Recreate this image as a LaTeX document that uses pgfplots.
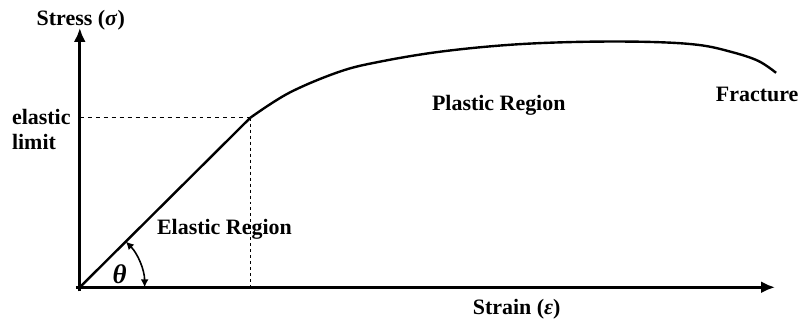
\documentclass[border=0pt]{standalone}
\usepackage{fontspec}
\setmainfont{Liberation Serif}
\usepackage{pgfplots}
\pgfplotsset{compat=1.18}
\usetikzlibrary{arrows.meta}

\begin{document}
\begin{tikzpicture}
	\begin{axis}[
		scale only axis,
		width=347pt, height=129.5pt,
		xmin=-4, xmax=690, ymin=-4, ymax=255,
		hide axis,
		clip=false,
		every node/.append style={inner sep=0pt, outer sep=0pt},
		font=\fontsize{11}{12.5}\selectfont\bfseries,
	]
		% invisible frame so the page has the reference's proportions
		\path (axis cs:-80,-34) rectangle (axis cs:725,288);

		% axes with arrows
		\draw[line width=1.4pt, -{Latex[length=7pt,width=6pt]}] (axis cs:-4,0) -- (axis cs:697,0);
		\draw[line width=1.4pt, -{Latex[length=7pt,width=6pt]}] (axis cs:0,-4) -- (axis cs:0,260);

		% elastic part
		\addplot[black, line width=1.2pt] coordinates {(0,0) (171,170)};
		% plastic part up to fracture
		\addplot[black, line width=1.2pt, smooth, tension=0.6] coordinates {
			(171,170) (210,195) (260,216) (300,226) (360,236) (430,243)
			(500,246) (570,246) (620,243) (653,236) (680,227) (698,215)};

		% elastic limit guides
		\addplot[black, line width=0.6pt, dash pattern=on 2pt off 2pt] coordinates {(0,170) (171,170)};
		\addplot[black, line width=0.6pt, dash pattern=on 1.5pt off 1.5pt] coordinates {(171,170) (171,0)};

		% angle
		\draw[line width=0.8pt, {Latex[length=4pt,width=4pt]}-{Latex[length=4pt,width=4pt]}]
			(axis cs:65,0) arc[start angle=0, end angle=44.8, radius=32.5pt];
		\node at (axis cs:40,13) {\fontsize{13.5}{13.5}\selectfont\textit{θ}};

		\node at (axis cs:1,268) {Stress (\textit{σ})};
		\node[anchor=west, align=left] at (axis cs:-75,158) {elastic\\limit};
		\node at (axis cs:145,58) {Elastic Region};
		\node at (axis cs:420,182) {Plastic Region};
		\node at (axis cs:679,193) {Fracture};
		\node at (axis cs:438,-22) {Strain (\textit{ε})};
	\end{axis}
\end{tikzpicture}
\end{document}
